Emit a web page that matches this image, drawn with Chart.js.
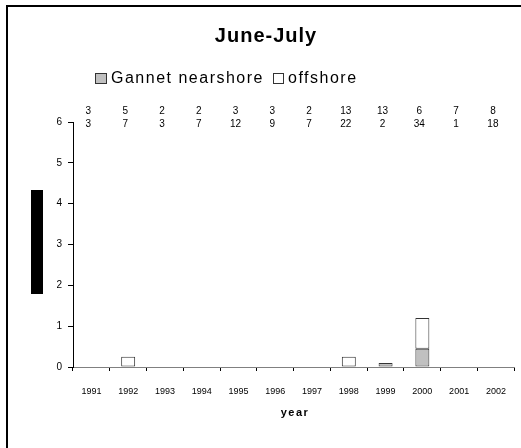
<!DOCTYPE html>
<html>
<head>
<meta charset="utf-8">
<script src="https://cdn.jsdelivr.net/npm/chart.js@4/dist/chart.umd.min.js"></script>
<style>
  html, body { margin: 0; padding: 0; background: #fff; overflow: hidden; }
  canvas { display: block; }
</style>
</head>
<body>
<canvas id="chart" width="521" height="448"></canvas>
<script>
const years = ['1991', '1992', '1993', '1994', '1995', '1996', '1997', '1998', '1999', '2000', '2001', '2002'];
const nearshore = [0, 0, 0, 0, 0, 0, 0, 0, 0.1, 0.45, 0, 0];
const offshore = [0, 0.25, 0, 0, 0, 0, 0, 0.25, 0, 0.75, 0, 0];
const countsTop = [3, 5, 2, 2, 3, 3, 2, 13, 13, 6, 7, 8];
const countsBottom = [3, 7, 3, 7, 12, 9, 7, 22, 2, 34, 1, 18];
const yTicks = [0, 1, 2, 3, 4, 5, 6];

const FONT = "'Liberation Sans', Arial, sans-serif";

// Title, legend, sample counts, frame and the axis label
const extras = {
    id: 'extras',
    afterDraw(chart) {
        const ctx = chart.ctx;
        const x = chart.scales.x;
        ctx.save();

        // frame (left and top only, as in the source)
        ctx.fillStyle = '#000';
        ctx.fillRect(6, 5, 2, 443);
        ctx.fillRect(6, 5, 515, 2);

        // the black block where the y title was
        ctx.fillRect(31, 190, 12, 104);

        // title
        ctx.textBaseline = 'alphabetic';
        ctx.textAlign = 'center';
        ctx.letterSpacing = '1px';
        ctx.font = `bold 20px ${FONT}`;
        ctx.fillText('June-July', 266, 42);

        // legend
        ctx.textAlign = 'left';
        ctx.letterSpacing = '1.5px';
        ctx.font = `16px ${FONT}`;
        ctx.lineWidth = 1;
        ctx.strokeStyle = '#333';
        ctx.fillStyle = '#c0c0c0';
        ctx.fillRect(95.5, 73.5, 11, 10);
        ctx.strokeRect(95.5, 73.5, 11, 10);
        ctx.fillStyle = '#fff';
        ctx.fillRect(273.5, 73.5, 10, 10);
        ctx.strokeRect(273.5, 73.5, 10, 10);
        ctx.fillStyle = '#000';
        ctx.fillText('Gannet nearshore', 111, 83);
        ctx.fillText('offshore', 288, 83);

        // sample counts above each year
        ctx.textAlign = 'center';
        ctx.letterSpacing = '0px';
        ctx.font = `10px ${FONT}`;
        years.forEach((yr, i) => {
            const px = x.getPixelForValue(i) - 3;
            ctx.fillText(String(countsTop[i]), px, 114);
            ctx.fillText(String(countsBottom[i]), px, 127);
        });

        // x axis title
        ctx.letterSpacing = '1.5px';
        ctx.font = `bold 11px ${FONT}`;
        ctx.fillText('year', 295, 416);

        ctx.restore();
    },
};

const ctx = document.getElementById('chart').getContext('2d');

new Chart(ctx, {
    type: 'bar',
    data: {
        labels: years,
        datasets: [
            {
                label: 'Gannet nearshore',
                data: nearshore,
                backgroundColor: '#c0c0c0',
                borderColor: '#333',
                borderWidth: 1,
                borderSkipped: false,
            },
            {
                label: 'offshore',
                data: offshore,
                backgroundColor: '#fff',
                borderColor: '#333',
                borderWidth: 1,
                borderSkipped: false,
            },
        ],
    },
    options: {
        responsive: false,
        animation: false,
        events: [],
        layout: {
            padding: { left: 0, top: 122, right: 2, bottom: 0 },
        },
        datasets: {
            bar: {
                categoryPercentage: 1,
                barPercentage: 0.38,
            },
        },
        plugins: {
            legend: { display: false },
            title: { display: false },
            tooltip: { enabled: false },
        },
        scales: {
            x: {
                stacked: true,
                offset: true,
                grid: {
                    display: true,
                    drawOnChartArea: false,
                    drawTicks: true,
                    tickLength: 4,
                    offset: true,
                    tickColor: '#000',
                },
                border: { color: '#808080', width: 1 },
                ticks: {
                    color: '#000',
                    font: { family: FONT, size: 9 },
                    padding: 15,
                    maxRotation: 0,
                    autoSkip: false,
                },
                afterFit(scale) {
                    scale.height = 81;
                },
            },
            y: {
                stacked: true,
                min: 0,
                max: 6,
                grid: {
                    display: true,
                    drawOnChartArea: false,
                    drawTicks: true,
                    tickLength: 5,
                    tickColor: '#000',
                },
                border: { color: '#000', width: 1 },
                ticks: {
                    color: '#000',
                    font: { family: FONT, size: 10 },
                    padding: 6,
                    stepSize: 1,
                },
                afterBuildTicks(scale) {
                    scale.ticks = yTicks.map(v => ({ value: v }));
                },
                afterFit(scale) {
                    scale.width = 73;
                },
            },
        },
    },
    plugins: [extras],
});
</script>
</body>
</html>
